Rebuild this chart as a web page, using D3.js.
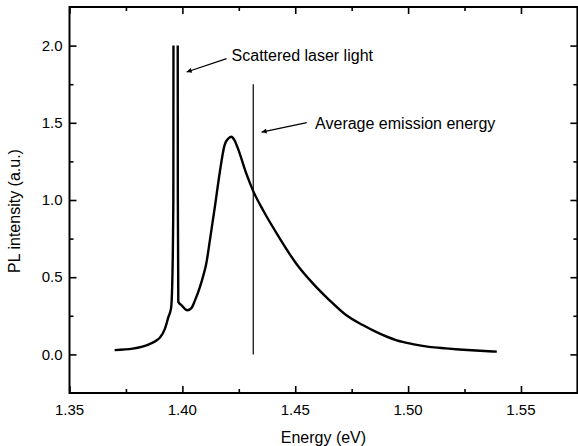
<!DOCTYPE html>
<html>
<head>
<meta charset="utf-8">
<script src="https://cdn.jsdelivr.net/npm/d3@7"></script>
<style>
  html, body { margin: 0; padding: 0; background: #fff; }
  svg { display: block; font-family: "Liberation Sans", Arial, Helvetica, sans-serif; }
</style>
</head>
<body>
<svg id="chart" width="578" height="446"></svg>
<script>
// ---- Data ----
// The laser line runs off scale; the plot clips it at 2.0.
const energy = [
  1.370, 1.378, 1.3857, 1.3885, 1.3901, 1.3923, 1.3938, 1.3950, 1.3955, 1.3960,
  1.3961, 1.3979, 1.3980, 1.3982, 1.3997, 1.4022, 1.4040, 1.4056, 1.4078, 1.4093,
  1.4106, 1.4122, 1.4144, 1.4165, 1.4187, 1.4205, 1.4217, 1.4230, 1.4246, 1.4283,
  1.4312, 1.4357, 1.4430, 1.4504, 1.4578, 1.4651, 1.4725, 1.4799, 1.4872, 1.4946,
  1.5020, 1.5093, 1.5167, 1.5226, 1.5300, 1.5393
];
const intensity = [
  0.028, 0.037, 0.068, 0.090, 0.110, 0.167, 0.242, 0.300, 0.450, 1.000,
  2.600, 2.600, 1.000, 0.340, 0.318, 0.286, 0.300, 0.350, 0.437, 0.512,
  0.589, 0.740, 0.956, 1.172, 1.356, 1.400, 1.410, 1.390, 1.334, 1.172,
  1.064, 0.935, 0.755, 0.589, 0.460, 0.352, 0.255, 0.190, 0.136, 0.093,
  0.067, 0.049, 0.039, 0.032, 0.025, 0.018
];
const clipIntensity = 2.0;          // upper display limit of the spectrum
const avgEnergy = 1.4314;           // average emission energy marker
const avgLineRange = [0.0, 1.75];   // marker extent in intensity units

const xTickLabels = [1.35, 1.40, 1.45, 1.50, 1.55];
const yTickLabels = [0.0, 0.5, 1.0, 1.5, 2.0];
const xMinorTicks = [1.375, 1.425, 1.475, 1.525];
const yMinorTicks = [0.25, 0.75, 1.25, 1.75];

const annotationTexts = ["Scattered laser light", "Average emission energy"];
// [textE, textI, tailE, tailI, headE, headI] in data units
const annotationAnchors = [
  [1.4218, 1.900, 1.4196, 1.916, 1.4019, 1.829],
  [1.4588, 1.463, 1.4551, 1.501, 1.4351, 1.440]
];
const xTitle = "Energy (eV)";
const yTitle = "PL intensity (a.u.)";

// ---- Layout ----
const svg = d3.select("#chart");
const mL = 69.5, mR = 577.4, mT = 7, mB = 393;

const x = d3.scaleLinear().domain([1.35, 1.575]).range([mL, mR]);
const y = d3.scaleLinear().domain([-0.25, 2.25]).range([mB, mT]);

const majorLen = 7, minorLen = 4;

function addAxis(axisFn, scale, vals, len, tx, ty) {
  svg.append("g").attr("transform", `translate(${tx},${ty})`)
    .call(axisFn(scale).tickValues(vals).tickSize(len).tickFormat(""));
}
// Ticks pointing inward on all four sides
addAxis(d3.axisTop, x, xTickLabels, majorLen, 0, mB);
addAxis(d3.axisTop, x, xMinorTicks, minorLen, 0, mB);
addAxis(d3.axisBottom, x, xTickLabels, majorLen, 0, mT);
addAxis(d3.axisBottom, x, xMinorTicks, minorLen, 0, mT);
addAxis(d3.axisRight, y, yTickLabels, majorLen, mL, 0);
addAxis(d3.axisRight, y, yMinorTicks, minorLen, mL, 0);
addAxis(d3.axisLeft, y, yTickLabels, majorLen, mR, 0);
addAxis(d3.axisLeft, y, yMinorTicks, minorLen, mR, 0);

svg.selectAll(".domain").remove();
svg.selectAll(".tick line").attr("stroke", "#000").attr("stroke-width", 1.6);

// Frame
svg.append("rect")
  .attr("x", mL).attr("y", mT)
  .attr("width", mR - mL).attr("height", mB - mT)
  .attr("fill", "none").attr("stroke", "#000").attr("stroke-width", 2);

// Tick labels
svg.append("g").selectAll("text").data(xTickLabels).join("text")
  .attr("x", d => x(d)).attr("y", mB + 22)
  .attr("text-anchor", "middle").attr("font-size", 15).attr("fill", "#000")
  .text(d => d3.format(".2f")(d));
svg.append("g").selectAll("text").data(yTickLabels).join("text")
  .attr("x", mL - 7).attr("y", d => y(d)).attr("dy", "0.35em")
  .attr("text-anchor", "end").attr("font-size", 15).attr("fill", "#000")
  .text(d => d3.format(".1f")(d));

// Axis titles
svg.append("text").attr("x", (mL + mR) / 2).attr("y", 443)
  .attr("text-anchor", "middle").attr("font-size", 16).attr("fill", "#000")
  .text(xTitle);
svg.append("text").attr("transform", "translate(20,211) rotate(-90)")
  .attr("text-anchor", "middle").attr("font-size", 16).attr("fill", "#000")
  .text(yTitle);

// Clip for spectrum (cut at the display limit)
const defs = svg.append("defs");
defs.append("clipPath").attr("id", "specClip")
  .append("rect")
  .attr("x", mL).attr("y", y(clipIntensity))
  .attr("width", mR - mL).attr("height", mB - y(clipIntensity));

// Spectrum
const pts = energy.map((e, i) => [e, intensity[i]]);
svg.append("path").datum(pts)
  .attr("clip-path", "url(#specClip)")
  .attr("fill", "none").attr("stroke", "#000").attr("stroke-width", 2.4)
  .attr("stroke-linejoin", "round")
  .attr("d", d3.line().curve(d3.curveMonotoneX)
    .x(d => x(d[0])).y(d => y(d[1])));

// Average emission energy marker
svg.append("line")
  .attr("x1", x(avgEnergy)).attr("x2", x(avgEnergy))
  .attr("y1", y(avgLineRange[0])).attr("y2", y(avgLineRange[1]))
  .attr("stroke", "#000").attr("stroke-width", 1.2);

// Annotations with arrows
defs.append("marker")
  .attr("id", "arrow").attr("viewBox", "0 0 10 10")
  .attr("refX", 10).attr("refY", 5)
  .attr("markerWidth", 8).attr("markerHeight", 5)
  .attr("markerUnits", "userSpaceOnUse")
  .attr("orient", "auto")
  .append("path").attr("d", "M0,0 L10,5 L0,10 Z").attr("fill", "#000");

annotationAnchors.forEach((a, i) => {
  svg.append("text").attr("x", x(a[0])).attr("y", y(a[1]))
    .attr("font-size", 16).attr("fill", "#000").text(annotationTexts[i]);
  svg.append("line")
    .attr("x1", x(a[2])).attr("y1", y(a[3]))
    .attr("x2", x(a[4])).attr("y2", y(a[5]))
    .attr("stroke", "#000").attr("stroke-width", 1.2)
    .attr("marker-end", "url(#arrow)");
});
</script>
</body>
</html>
